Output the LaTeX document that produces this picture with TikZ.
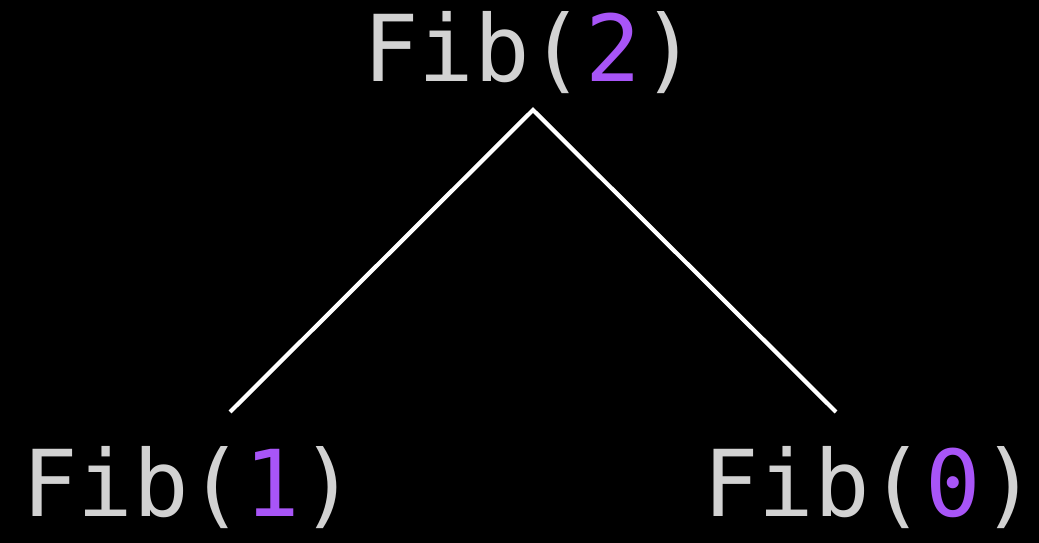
\documentclass[tikz,border=0pt]{standalone}
\usepackage{fontspec}
\setmonofont{DejaVu Sans Mono}
\usepackage{tikz}
\usetikzlibrary{positioning}

\definecolor{textgray}{HTML}{D2D2D2}
\definecolor{argpurple}{HTML}{A855F7}

\tikzset{
  call/.style={anchor=base, inner sep=0pt, text=textgray,
    font=\ttfamily\fontsize{52.5}{60}\selectfont},
  branch/.style={draw=white, line width=2.4pt}
}
\newcommand{\fibcall}[1]{Fib(\textcolor{argpurple}{#1})}

\begin{document}
\begin{tikzpicture}[x=0.02cm, y=-0.02cm]
  % Background
  \fill[black] (0,0) rectangle (1039,543);
  \useasboundingbox (0,0) rectangle (1039,543);

  % Calls
  \node[call] (fibtwo) at (530,82) {\fibcall{2}};
  \node[call] (fibone) at (189,517) {\fibcall{1}};
  \node[call] (fibzero) at (870,517) {\fibcall{0}};

  % Branch ends
  \coordinate (apex) at (533,110);
  \coordinate (leftend) at (230,412);
  \coordinate (rightend) at (836,412);

  % Branches
  \draw[branch] (leftend) -- (apex) -- (rightend);
\end{tikzpicture}
\end{document}
